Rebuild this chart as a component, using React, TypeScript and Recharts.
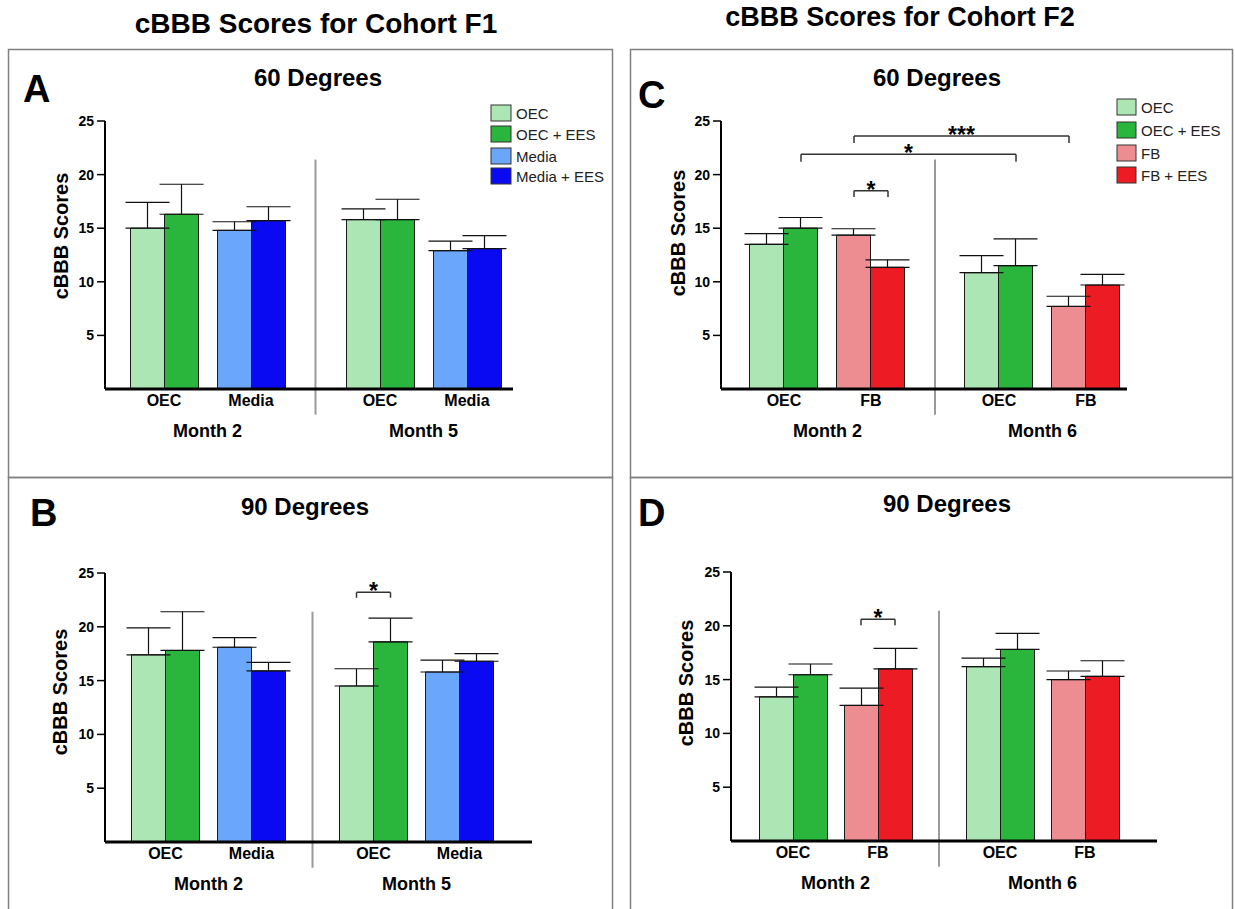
import React from "react";
import {
  BarChart,
  Bar,
  XAxis,
  YAxis,
  ErrorBar,
  Cell,
  ReferenceLine,
  ReferenceDot,
} from "recharts";

const FONT = '"Liberation Sans", Arial, Helvetica, sans-serif';

// fill colours per treatment group: [without EES, with EES]
const GROUP_COLORS: Record<string, [string, string]> = {
  OEC: ["#ace6b4", "#2ab53d"],
  Media: ["#6aa6fa", "#0a0af2"],
  FB: ["#ee8d91", "#ed1c24"],
};

// ---- Cohort F1 ----
const f1Categories = ["OEC", "Media", "OEC", "Media"];
const f1Months = ["Month 2", "Month 5"];
const f1Legend = ["OEC", "OEC + EES", "Media", "Media + EES"];

// A: 60 degrees
const a60Base = [15.0, 14.8, 15.8, 12.9];
const a60BaseErr = [2.4, 0.8, 1.0, 0.9];
const a60Ees = [16.3, 15.7, 15.8, 13.1];
const a60EesErr = [2.8, 1.3, 1.9, 1.2];

// B: 90 degrees
const b90Base = [17.4, 18.1, 14.5, 15.8];
const b90BaseErr = [2.5, 0.9, 1.6, 1.1];
const b90Ees = [17.8, 15.9, 18.6, 16.8];
const b90EesErr = [3.6, 0.8, 2.2, 0.7];

// ---- Cohort F2 ----
const f2Categories = ["OEC", "FB", "OEC", "FB"];
const f2Months = ["Month 2", "Month 6"];
const f2Legend = ["OEC", "OEC + EES", "FB", "FB + EES"];

// C: 60 degrees
const c60Base = [13.5, 14.35, 10.85, 7.7];
const c60BaseErr = [1.0, 0.6, 1.6, 0.95];
const c60Ees = [15.0, 11.35, 11.5, 9.7];
const c60EesErr = [1.0, 0.7, 2.5, 1.0];

// D: 90 degrees
const d90Base = [13.4, 12.6, 16.2, 15.0];
const d90BaseErr = [0.9, 1.6, 0.8, 0.8];
const d90Ees = [15.45, 16.0, 17.8, 15.3];
const d90EesErr = [1.0, 1.9, 1.5, 1.45];

const yTicks = [5, 10, 15, 20, 25];

// significance brackets: [category, series] -> [category, series], bar height, tip height, mark
type Bracket = { from: [number, number]; to: [number, number]; y: number; tip: number; mark: string };
const bBrackets: Bracket[] = [{ from: [2, 0], to: [2, 1], y: 23.2, tip: 22.7, mark: "*" }];
const cBrackets: Bracket[] = [
  { from: [1, 0], to: [1, 1], y: 18.5, tip: 17.9, mark: "*" },
  { from: [0, 1], to: [2, 1], y: 21.9, tip: 21.2, mark: "*" },
  { from: [1, 0], to: [3, 0], y: 23.6, tip: 22.95, mark: "***" },
];
const dBrackets: Bracket[] = [{ from: [1, 0], to: [1, 1], y: 20.6, tip: 20.05, mark: "*" }];

type Geo = {
  left: number;
  right: number;
  top: number;
  bottom: number;
  c0: number;
  pair: number;
  gap: number;
  bar: number;
  labelX: number;
  labelY: number;
};

const Y_W = 60;
const M_TOP = 10;
const X_H = 62;
const M_BOT = 4;

function ScoreChart({
  geo,
  cats,
  months,
  base,
  baseErr,
  ees,
  eesErr,
  brackets = [],
}: {
  geo: Geo;
  cats: string[];
  months: string[];
  base: number[];
  baseErr: number[];
  ees: number[];
  eesErr: number[];
  brackets?: Bracket[];
}) {
  const shift = geo.gap / geo.pair;
  const pos = cats.map((_, i) => (i % 2) + Math.floor(i / 2) * (1 + shift));
  const dom: [number, number] = [(geo.left - geo.c0) / geo.pair, (geo.right - geo.c0) / geo.pair];
  const half = geo.bar / 2 / geo.pair;
  const data = cats.map((c, i) => ({
    pos: pos[i],
    cat: c,
    base: base[i],
    baseErr: [0, baseErr[i]],
    ees: ees[i],
    eesErr: [0, eesErr[i]],
  }));
  const chartLeft = geo.left - Y_W;
  const chartTop = geo.top - M_TOP;
  const width = geo.right - chartLeft + 8;
  const height = M_TOP + geo.bottom - geo.top + X_H + M_BOT;
  const divider = (pos[1] + pos[2]) / 2;
  const barX = (c: number, s: number) => pos[c] + (s === 0 ? -half : half);
  const lx = geo.labelX - chartLeft;
  const ly = geo.labelY - chartTop;

  const renderTick = (p: any) => {
    const i = p.index;
    return (
      <g>
        <text x={p.x} y={p.y + 17} textAnchor="middle" fontSize={16} fontWeight="bold" fill="#000">
          {cats[i]}
        </text>
        {i % 2 === 0 && (
          <text
            x={p.x + geo.pair / 2}
            y={p.y + 48}
            textAnchor="middle"
            fontSize={18}
            fontWeight="bold"
            fill="#000"
          >
            {months[i / 2]}
          </text>
        )}
      </g>
    );
  };

  return (
    <div style={{ position: "absolute", left: chartLeft, top: chartTop }}>
      <BarChart
        width={width}
        height={height}
        data={data}
        margin={{ top: M_TOP, right: 8, bottom: M_BOT, left: 0 }}
        barGap={0}
      >
        <XAxis
          dataKey="pos"
          type="number"
          domain={dom}
          allowDataOverflow
          ticks={pos}
          interval={0}
          height={X_H}
          tickLine={false}
          tickSize={0}
          tickMargin={0}
          axisLine={{ stroke: "#000", strokeWidth: 3 }}
          tick={renderTick}
        />
        <YAxis
          type="number"
          domain={[0, 25]}
          ticks={yTicks}
          width={Y_W}
          tickSize={8}
          tickMargin={3}
          axisLine={{ stroke: "#000", strokeWidth: 2 }}
          tickLine={{ stroke: "#000", strokeWidth: 1.5 }}
          tick={{ fontSize: 14, fontWeight: "bold", fill: "#000" }}
          label={() => (
            <text
              x={lx}
              y={ly}
              transform={`rotate(-90 ${lx} ${ly})`}
              textAnchor="middle"
              dominantBaseline="central"
              fontSize={20}
              fontWeight="bold"
              fill="#000"
            >
              cBBB Scores
            </text>
          )}
        />
        <ReferenceLine
          segment={[
            { x: divider, y: -2.4 },
            { x: divider, y: 21.4 },
          ]}
          ifOverflow="visible"
          stroke="#9a9a9a"
          strokeWidth={2}
        />
        {brackets.map((b, k) => {
          const x1 = barX(b.from[0], b.from[1]);
          const x2 = barX(b.to[0], b.to[1]);
          return [
            <ReferenceLine
              key={`h${k}`}
              segment={[
                { x: x1, y: b.y },
                { x: x2, y: b.y },
              ]}
              stroke="#333"
              strokeWidth={1.5}
            />,
            <ReferenceLine
              key={`l${k}`}
              segment={[
                { x: x1, y: b.y },
                { x: x1, y: b.tip },
              ]}
              stroke="#333"
              strokeWidth={1.5}
            />,
            <ReferenceLine
              key={`r${k}`}
              segment={[
                { x: x2, y: b.y },
                { x: x2, y: b.tip },
              ]}
              stroke="#333"
              strokeWidth={1.5}
            />,
            <ReferenceDot
              key={`m${k}`}
              x={(x1 + x2) / 2}
              y={b.y}
              r={0}
              stroke="none"
              fill="none"
              label={{
                value: b.mark,
                position: "top",
                offset: -7,
                fontSize: 23,
                fontWeight: "bold",
                fill: "#000",
              }}
            />,
          ];
        })}
        <Bar dataKey="base" barSize={geo.bar} stroke="#1a1a1a" strokeWidth={1} isAnimationActive={false}>
          {data.map((d, i) => (
            <Cell key={i} fill={GROUP_COLORS[d.cat][0]} />
          ))}
          <ErrorBar dataKey="baseErr" direction="y" width={22} stroke="#111" strokeWidth={1.2} isAnimationActive={false} />
        </Bar>
        <Bar dataKey="ees" barSize={geo.bar} stroke="#1a1a1a" strokeWidth={1} isAnimationActive={false}>
          {data.map((d, i) => (
            <Cell key={i} fill={GROUP_COLORS[d.cat][1]} />
          ))}
          <ErrorBar dataKey="eesErr" direction="y" width={22} stroke="#111" strokeWidth={1.2} isAnimationActive={false} />
        </Bar>
      </BarChart>
    </div>
  );
}

function LegendKeys({ x, tops, w, labels, cats }: { x: number; tops: number[]; w: number; labels: string[]; cats: string[] }) {
  return (
    <g>
      {labels.map((l, i) => {
        const fill = GROUP_COLORS[cats[Math.floor(i / 2) * 2 === 0 ? 0 : 1]][i % 2];
        return (
          <g key={l}>
            <rect x={x} y={tops[i]} width={w} height={16} fill={fill} stroke="#333" strokeWidth={1} />
            <text x={x + w + 5} y={tops[i] + 8.5} dominantBaseline="central" fontSize={15} fill="#222">
              {l}
            </text>
          </g>
        );
      })}
    </g>
  );
}

const geoA: Geo = { left: 105, right: 513, top: 121, bottom: 389, c0: 164, pair: 87, gap: 129, bar: 34, labelX: 61, labelY: 236 };
const geoB: Geo = { left: 105, right: 532, top: 573, bottom: 842, c0: 165.5, pair: 86, gap: 122, bar: 34, labelX: 60, labelY: 692 };
const geoC: Geo = { left: 721, right: 1127, top: 121, bottom: 389, c0: 784, pair: 87, gap: 128, bar: 34, labelX: 678, labelY: 233 };
const geoD: Geo = { left: 731, right: 1157, top: 572, bottom: 841, c0: 793, pair: 85, gap: 122, bar: 34, labelX: 686, labelY: 683 };

export default function App() {
  const bold = { fontWeight: "bold" as const, fill: "#000" };
  return (
    <div
      style={{
        position: "absolute",
        left: 0,
        top: 0,
        width: 1235,
        height: 909,
        overflow: "hidden",
        background: "#fff",
        fontFamily: FONT,
      }}
    >
      <svg width={1235} height={909} style={{ position: "absolute", left: 0, top: 0 }}>
        <rect x={8.5} y={49.5} width={604} height={428} fill="none" stroke="#808080" strokeWidth={1.5} />
        <rect x={8.5} y={477.5} width={604} height={440} fill="none" stroke="#808080" strokeWidth={1.5} />
        <rect x={630.5} y={49.5} width={602} height={428} fill="none" stroke="#808080" strokeWidth={1.5} />
        <rect x={630.5} y={477.5} width={602} height={440} fill="none" stroke="#808080" strokeWidth={1.5} />

        <text x={316} y={33} textAnchor="middle" fontSize={28} {...bold}>cBBB Scores for Cohort F1</text>
        <text x={900} y={26} textAnchor="middle" fontSize={27} {...bold}>cBBB Scores for Cohort F2</text>

        <text x={23} y={102} fontSize={38} {...bold}>A</text>
        <text x={30} y={526} fontSize={38} {...bold}>B</text>
        <text x={638} y={108} fontSize={38} {...bold}>C</text>
        <text x={638} y={526} fontSize={38} {...bold}>D</text>

        <text x={318} y={86} textAnchor="middle" fontSize={24} {...bold}>60 Degrees</text>
        <text x={305} y={515} textAnchor="middle" fontSize={24} {...bold}>90 Degrees</text>
        <text x={937} y={86} textAnchor="middle" fontSize={24} {...bold}>60 Degrees</text>
        <text x={947} y={512} textAnchor="middle" fontSize={24} {...bold}>90 Degrees</text>

        <LegendKeys x={491} tops={[105, 126, 148, 168]} w={20} labels={f1Legend} cats={f1Categories} />
        <LegendKeys x={1117} tops={[99, 122, 145, 167]} w={19} labels={f2Legend} cats={f2Categories} />
      </svg>

      <ScoreChart geo={geoA} cats={f1Categories} months={f1Months} base={a60Base} baseErr={a60BaseErr} ees={a60Ees} eesErr={a60EesErr} />
      <ScoreChart geo={geoB} cats={f1Categories} months={f1Months} base={b90Base} baseErr={b90BaseErr} ees={b90Ees} eesErr={b90EesErr} brackets={bBrackets} />
      <ScoreChart geo={geoC} cats={f2Categories} months={f2Months} base={c60Base} baseErr={c60BaseErr} ees={c60Ees} eesErr={c60EesErr} brackets={cBrackets} />
      <ScoreChart geo={geoD} cats={f2Categories} months={f2Months} base={d90Base} baseErr={d90BaseErr} ees={d90Ees} eesErr={d90EesErr} brackets={dBrackets} />
    </div>
  );
}
